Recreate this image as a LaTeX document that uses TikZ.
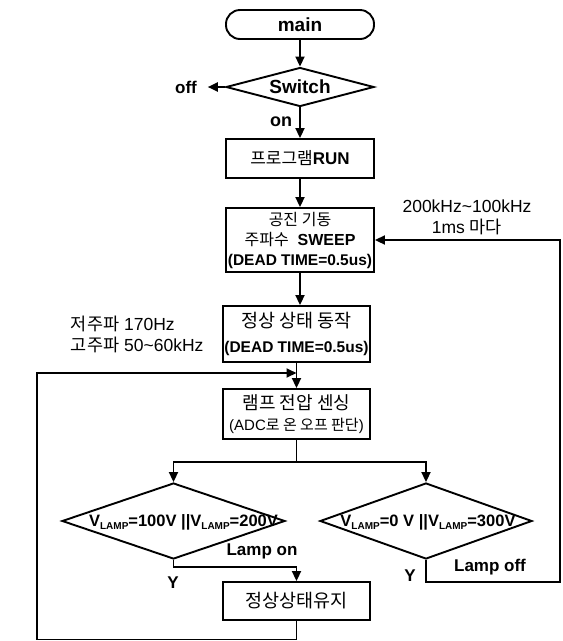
\documentclass[tikz,border=0pt]{standalone}
\usepackage{fontspec}
\setmainfont{Liberation Sans}
\newfontfamily\kr{Noto Sans CJK KR}
\usetikzlibrary{arrows.meta, shapes.geometric}
\newcommand{\fsz}[2]{\fontsize{#1}{#2}\selectfont}
\newcommand{\vlamp}{V\raisebox{-0.2em}{\fsz{10}{10}LAMP}}

\begin{document}
\begin{tikzpicture}[x=1pt, y=-1pt, line width=1.9pt,
  box/.style={draw, minimum width=148pt, inner sep=0pt, align=center},
  dec/.style={draw, diamond, inner sep=0pt},
  lbl/.style={inner sep=0pt, font=\fsz{17}{20}\bfseries},
  txt/.style={inner sep=0pt, font=\fsz{17.5}{21}},
  arr/.style={-{Triangle[length=10pt, width=9pt]}}]
  \useasboundingbox (0,0) rectangle (563,641);
  % main column
  \node[box, rounded corners=14pt, minimum height=29pt, font=\fsz{19}{21}\bfseries] (main) at (300,24.5) {main};
  \node[dec, aspect=3.8, minimum width=148pt, minimum height=39pt, font=\fsz{19}{21}\bfseries] (sw) at (300,87) {Switch};
  \node[lbl, inner xsep=10pt] (off) at (186,87) {off};
  \node[lbl, font=\fsz{18}{20}\bfseries] (on) at (281,122) {on};
  \node[box, minimum height=39pt, font=\fsz{17}{20}] (run) at (300,158.5) {{\kr 프로그램}\textbf{RUN}};
  \node[box, minimum height=64pt, font=\fsz{16}{20}] (osc) at (300,240)
    {{\kr 공진 기동}\\{\kr 주파수}\ \ \textbf{SWEEP}\\{\fsz{15.5}{20}\bfseries (DEAD TIME=0.5us)}};
  \node[box, minimum width=147pt, minimum height=56pt, font=\fsz{18.5}{25}] (steady) at (296.5,334)
    {{\kr 정상 상태 동작}\\{\fsz{15.5}{20}\bfseries (DEAD TIME=0.5us)}};
  \node[box, minimum width=147pt, minimum height=50pt, font=\fsz{18}{21}] (sense) at (296.5,414)
    {{\kr 램프 전압 센싱}\\{\fsz{15}{20}(ADC{\kr 로 온 오프 판단})}};
  % lamp checks
  \node[dec, minimum width=223pt, minimum height=76pt] (dl) at (173.5,521) {};
  \node[lbl, font=\fsz{16.5}{20}\bfseries] (dltxt) at (183.5,522) {\vlamp=100V ||\vlamp=200V};
  \node[dec, minimum width=212pt, minimum height=76pt] (dr) at (426,521) {};
  \node[lbl, font=\fsz{16.5}{20}\bfseries] (drtxt) at (428,522) {\vlamp=0 V ||\vlamp=300V};
  \node[box, minimum width=147pt, minimum height=38pt, font=\fsz{18.5}{21}] (keep) at (296.5,601) {{\kr 정상상태유지}};
  % side texts
  \node[txt, align=center] (sweeptxt) at (467,217.5) {200kHz\textasciitilde100kHz\\1ms {\kr 마다}};
  \node[txt, align=left, anchor=west] (freq) at (70,334.5) {{\kr 저주파} 170Hz\\{\kr 고주파} 50\textasciitilde60kHz};
  \node[lbl] (lon) at (262,551) {Lamp on};
  \node[lbl] (loff) at (490,567) {Lamp off};
  \node[lbl] (yl) at (173,583) {Y};
  \node[lbl] (yr) at (410,576) {Y};
  \coordinate (split) at (296.5,462);
  \coordinate (lb) at (37,639.5);
  \coordinate (loopin) at (296.5,373);
  \coordinate (rb) at (560,582);
  % connectors
  \draw[arr] (main) -- (sw);
  \draw[arr] (sw.west) -- (off.east);
  \draw[arr] (sw) -- (run);
  \draw[arr] (run) -- (osc);
  \draw[arr] (osc.south) -- (osc.south |- steady.north);
  \draw[arr] (steady) -- (sense);
  \draw (sense.south) -- (split);
  \draw[arr] (split) -| (dl.north);
  \draw[arr] (split) -| (dr.north);
  \draw[arr] (dl.south) -- ++(0,7) -| (keep.north);
  \draw[arr] (keep.south) |- (lb) |- (loopin);
  \draw[arr] (dr.south) |- (rb) |- (osc.east);
\end{tikzpicture}
\end{document}
